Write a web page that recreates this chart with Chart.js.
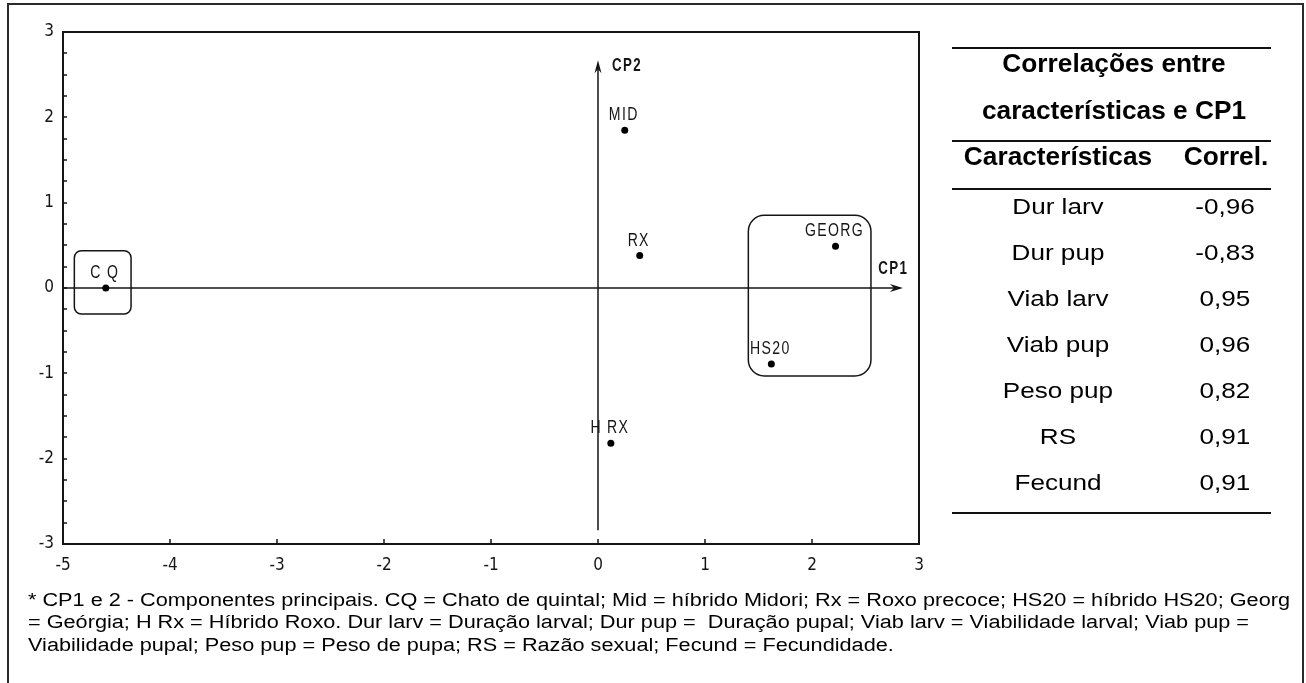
<!DOCTYPE html>
<html>
<head>
<meta charset="utf-8">
<title>CP1 x CP2</title>
<script src="https://cdn.jsdelivr.net/npm/chart.js@4.4.1/dist/chart.umd.min.js"></script>
<style>
  html, body { margin: 0; padding: 0; background: #fff; }
  #wrap { position: relative; width: 1306px; height: 683px; overflow: hidden; background: #fff; }
  #frame { position: absolute; left: 7px; top: 3px; width: 1297px; height: 720px;
           border: 2px solid #2b2b2b; box-sizing: border-box; }
  #pca { position: absolute; left: 0; top: 0; }
  .txt { position: absolute; white-space: pre; line-height: 1; color: #000;
         font-family: "Liberation Sans", Arial, Helvetica, sans-serif; }
  .rule { position: absolute; left: 952px; width: 319px; height: 2px; background: #111; }
</style>
</head>
<body>
<div id="wrap">
  <div id="frame"></div>
  <canvas id="pca" width="1306" height="683"></canvas>
  <div id="table"></div>
  <div id="note"></div>
</div>
<script>
// Principal component scores of each variety
const varieties = ['C Q', 'MID', 'RX', 'GEORG', 'HS20', 'H RX'];
const cp1Scores = [-4.60, 0.25, 0.39, 2.22, 1.62, 0.12];
const cp2Scores = [0.00, 1.85, 0.38, 0.49, -0.89, -1.82];

// Axis tick labels
const cp1Ticks = [-5, -4, -3, -2, -1, 0, 1, 2, 3];
const cp2Ticks = [-3, -2, -1, 0, 1, 2, 3];

// Correlations between traits and CP1
const traits = ['Dur larv', 'Dur pup', 'Viab larv', 'Viab pup', 'Peso pup', 'RS', 'Fecund'];
const traitCorrelations = [-0.96, -0.83, 0.95, 0.96, 0.82, 0.91, 0.91];

const INK = '#151515';
const NARROW = '"Liberation Sans Narrow", "DejaVu Sans Condensed", "Liberation Sans", sans-serif';

// condensed text helper for labels drawn on the plot
function narrowText(ctx, text, x, y, size, weight, align) {
  ctx.save();
  ctx.font = `${weight} ${size}px "Liberation Sans", Arial, sans-serif`;
  ctx.letterSpacing = '1.8px';
  ctx.textAlign = align;
  ctx.textBaseline = 'alphabetic';
  ctx.fillStyle = INK;
  ctx.translate(x, y);
  ctx.scale(0.74, 1);
  ctx.fillText(text, 0, 0);
  ctx.restore();
}

function arrowHead(ctx, tipX, tipY, dx, dy, len, half, notch) {
  const bx = tipX - dx * len, by = tipY - dy * len;
  const nx = -dy, ny = dx;
  ctx.beginPath();
  ctx.moveTo(tipX, tipY);
  ctx.lineTo(bx + nx * half, by + ny * half);
  ctx.lineTo(tipX - dx * (len - notch), tipY - dy * (len - notch));
  ctx.lineTo(bx - nx * half, by - ny * half);
  ctx.closePath();
  ctx.fill();
}

const pcaDecor = {
  id: 'pcaDecor',
  beforeDatasetsDraw(chart) {
    const { ctx, chartArea: a, scales: { x, y } } = chart;
    ctx.save();
    ctx.strokeStyle = INK;
    ctx.fillStyle = INK;

    // plot frame
    ctx.lineWidth = 2;
    ctx.strokeRect(a.left, a.top, a.right - a.left, a.bottom - a.top);

    // inward tick marks
    ctx.lineWidth = 1.5;
    ctx.beginPath();
    y.ticks.forEach(t => {
      const py = Math.round(y.getPixelForValue(t.value));
      ctx.moveTo(a.left, py); ctx.lineTo(a.left + 4, py);
    });
    x.ticks.forEach(t => {
      const px = Math.round(x.getPixelForValue(t.value));
      ctx.moveTo(px, a.bottom); ctx.lineTo(px, a.bottom - 5);
    });
    ctx.stroke();

    // component axes with arrows
    const x0 = x.getPixelForValue(0), y0 = y.getPixelForValue(0);
    const cp1Tip = x.getPixelForValue(2.85);
    const cp2Tip = y.getPixelForValue(2.67);
    ctx.lineWidth = 1.5;
    ctx.beginPath();
    ctx.moveTo(a.left, y0); ctx.lineTo(cp1Tip - 8, y0);
    ctx.moveTo(x0, y.getPixelForValue(-2.84)); ctx.lineTo(x0, cp2Tip + 8);
    ctx.stroke();
    arrowHead(ctx, cp1Tip, y0, 1, 0, 13, 4, 4);
    arrowHead(ctx, x0, cp2Tip, 0, -1, 13, 3.5, 4);

    // groups of varieties
    const clusters = [
      { x: [-4.894, -4.364], y: [-0.305, 0.437], r: 7 },
      { x: [1.405, 2.551], y: [-1.031, 0.852], r: 16 }
    ];
    ctx.lineWidth = 1.5;
    clusters.forEach(c => {
      const l = x.getPixelForValue(c.x[0]), r = x.getPixelForValue(c.x[1]);
      const t = y.getPixelForValue(c.y[1]), b = y.getPixelForValue(c.y[0]);
      ctx.beginPath();
      ctx.roundRect(l, t, r - l, b - t, c.r);
      ctx.stroke();
    });
    ctx.restore();
  },
  afterDatasetsDraw(chart) {
    const { ctx, scales: { x, y } } = chart;
    const meta = chart.getDatasetMeta(0);
    meta.data.forEach((pt, i) => {
      narrowText(ctx, varieties[i], pt.x - 1, pt.y - 10, 19, 'normal', 'center');
    });
    const y0 = y.getPixelForValue(0), x0 = x.getPixelForValue(0);
    narrowText(ctx, 'CP1', x.getPixelForValue(2.75) + 1, y0 - 14, 18, 'bold', 'center');
    narrowText(ctx, 'CP2', x0 + 14, y.getPixelForValue(2.56) + 1, 18, 'bold', 'left');
  }
};

const tickFont = { family: NARROW, size: 17 };

new Chart(document.getElementById('pca'), {
  type: 'scatter',
  data: {
    datasets: [{
      data: cp1Scores.map((v, i) => ({ x: v, y: cp2Scores[i] })),
      pointRadius: 3.5,
      pointHoverRadius: 3.5,
      pointBackgroundColor: '#000',
      pointBorderWidth: 0
    }]
  },
  options: {
    responsive: false,
    animation: false,
    devicePixelRatio: 1,
    layout: { padding: { left: 0, top: 32, right: 387, bottom: 0 } },
    plugins: { legend: { display: false }, tooltip: { enabled: false } },
    scales: {
      x: {
        type: 'linear', min: -5, max: 3,
        afterBuildTicks: s => { s.ticks = cp1Ticks.map(v => ({ value: v })); },
        afterFit: s => { s.height = 139; },
        grid: { display: false, drawTicks: false },
        border: { display: false },
        ticks: { font: tickFont, color: INK, padding: 11, maxRotation: 0, autoSkip: false,
                 callback: v => String(v) }
      },
      y: {
        type: 'linear', min: -3, max: 3,
        afterFit: s => { s.width = 63; },
        grid: { display: false, drawTicks: false },
        border: { display: false },
        ticks: { font: tickFont, color: INK, padding: 9, stepSize: 0.25, autoSkip: false,
                 callback: v => cp2Ticks.includes(v) ? String(v) : '' }
      }
    }
  },
  plugins: [pcaDecor]
});

// correlation table
function placeText(parent, text, cx, baseline, size, weight, sx) {
  const d = document.createElement('div');
  d.className = 'txt';
  d.textContent = text;
  d.style.fontSize = size + 'px';
  d.style.fontWeight = weight;
  d.style.left = (cx - 200) + 'px';
  d.style.width = '400px';
  d.style.textAlign = 'center';
  d.style.top = (baseline - 0.8465 * size) + 'px';
  d.style.transform = `scaleX(${sx})`;
  parent.appendChild(d);
}
const table = document.getElementById('table');
[46.5, 140, 187.5, 512].forEach(top => {
  const r = document.createElement('div');
  r.className = 'rule';
  r.style.top = top + 'px';
  table.appendChild(r);
});
placeText(table, 'Correlações entre', 1114, 72, 25, 'bold', 1.05);
placeText(table, 'características e CP1', 1114, 119, 25, 'bold', 1.05);
placeText(table, 'Características', 1058, 165, 25, 'bold', 1.05);
placeText(table, 'Correl.', 1226, 165, 25, 'bold', 1.05);
traits.forEach((t, i) => {
  const base = 215 + i * 46;
  placeText(table, t, 1058, base, 22.5, 'normal', 1.16);
  placeText(table, traitCorrelations[i].toFixed(2).replace('.', ','), 1224.5, base, 22.5, 'normal', 1.16);
});

// footnote
const noteLines = [
  '* CP1 e 2 - Componentes principais. CQ = Chato de quintal; Mid = híbrido Midori; Rx = Roxo precoce; HS20 = híbrido HS20; Georg',
  '= Geórgia; H Rx = Híbrido Roxo. Dur larv = Duração larval; Dur pup =  Duração pupal; Viab larv = Viabilidade larval; Viab pup =',
  'Viabilidade pupal; Peso pup = Peso de pupa; RS = Razão sexual; Fecund = Fecundidade.'
];
const note = document.getElementById('note');
const noteSize = 18;
const noteEls = noteLines.map((line, i) => {
  const d = document.createElement('div');
  d.className = 'txt';
  d.textContent = line;
  d.style.fontSize = noteSize + 'px';
  d.style.left = '28px';
  d.style.top = (606 + i * 22.5 - 0.8465 * noteSize) + 'px';
  d.style.transformOrigin = '0 0';
  note.appendChild(d);
  return d;
});
// first line runs across to the right margin
const firstW = noteEls[0].getBoundingClientRect().width;
const sx = 1262 / firstW;
noteEls.forEach(d => { d.style.transform = `scaleX(${sx})`; });
</script>
</body>
</html>
